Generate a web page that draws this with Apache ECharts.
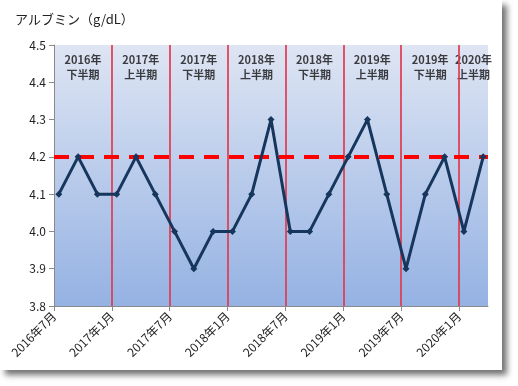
<!DOCTYPE html>
<html>
<head>
<meta charset="utf-8">
<script src="https://cdn.jsdelivr.net/npm/echarts@6/dist/echarts.min.js"></script>
<style>
  html, body { margin: 0; padding: 0; background: #ffffff; }
  #chart { width: 518px; height: 386px; }
</style>
</head>
<body>
<div id="chart"></div>
<script>
// ---- data ----
const months = ['2016-07','2016-09','2016-11','2017-01','2017-03','2017-05','2017-07','2017-09','2017-11',
                '2018-01','2018-03','2018-05','2018-07','2018-09','2018-11','2019-01','2019-03','2019-05',
                '2019-07','2019-09','2019-11','2020-01','2020-03'];
const albumin = [4.1, 4.2, 4.1, 4.1, 4.2, 4.1, 4.0, 3.9, 4.0, 4.0, 4.1, 4.3,
                 4.0, 4.0, 4.1, 4.2, 4.3, 4.1, 3.9, 4.1, 4.2, 4.0, 4.2];
const tickLabels = ['2016年7月','2017年1月','2017年7月','2018年1月','2018年7月','2019年1月','2019年7月','2020年1月'];
const periodLabels = ['2016年\n下半期','2017年\n上半期','2017年\n下半期','2018年\n上半期',
                      '2018年\n下半期','2019年\n上半期','2019年\n下半期','2020年\n上半期'];
const targetValue = 4.2;
const yTicks = [3.8, 3.9, 4.0, 4.1, 4.2, 4.3, 4.4, 4.5];

// ---- helpers ----
const startYear = 2016, startMonth = 7;
function monthIndex(s) {
  const [y, m] = s.split('-').map(Number);
  return (y - startYear) * 12 + (m - startMonth);
}
const xMax = monthIndex('2020-03') + 1;     // 45 monthly slots
const lineData = months.map((m, i) => [monthIndex(m) + 0.5, albumin[i]]);
const boundaries = tickLabels.slice(1).map((_, i) => (i + 1) * 6);
const periodData = periodLabels.map((t, i) => {
  const s = i * 6, e = Math.min(s + 6, xMax);
  return { value: [(s + e) / 2, yTicks[yTicks.length - 1]], name: t };
});

const chart = echarts.init(document.getElementById('chart'), null, { renderer: 'canvas' });
const font = '"Noto Sans CJK JP", "Noto Sans", sans-serif';
const redLine = { color: '#e03a50', width: 1.7, type: 'solid', opacity: 1 };

chart.setOption({
  animation: false,
  textStyle: { fontFamily: font },
  graphic: [{
    type: 'rect', z: -10, silent: true,
    shape: { x: 0, y: 0, width: 502, height: 370 },
    style: { fill: '#ffffff', shadowBlur: 6, shadowOffsetX: 5, shadowOffsetY: 5, shadowColor: 'rgba(0,0,0,0.55)' }
  }],
  title: {
    text: 'アルブミン（g/dL）',
    left: 10, top: 8,
    textStyle: { fontSize: 13, fontWeight: 'normal', color: '#222', fontFamily: font }
  },
  grid: {
    left: 54, top: 45, right: 30, bottom: 80,
    show: true, borderWidth: 0,
    backgroundColor: new echarts.graphic.LinearGradient(0, 0, 0, 1, [
      { offset: 0, color: '#dee5f3' },
      { offset: 1, color: '#95b2e3' }
    ])
  },
  xAxis: {
    type: 'value', min: 0, max: xMax, interval: 6,
    axisLine: { show: true, lineStyle: { color: '#8a8a8a', width: 1 } },
    axisTick: { show: true, length: 5, lineStyle: { color: '#8a8a8a' } },
    splitLine: { show: false },
    axisLabel: {
      rotate: 45, fontSize: 12, color: '#222', margin: 8, showMaxLabel: false,
      formatter: v => (v % 6 === 0 && v / 6 < tickLabels.length) ? tickLabels[v / 6] : ''
    }
  },
  yAxis: {
    type: 'value', min: 3.8, max: 4.5, interval: 0.1,
    axisLine: { show: true, lineStyle: { color: '#8a8a8a', width: 1 } },
    axisTick: { show: true, length: 5, lineStyle: { color: '#8a8a8a' } },
    splitLine: { show: false },
    axisLabel: { fontSize: 12, color: '#222', margin: 8, formatter: v => v.toFixed(1) }
  },
  series: [
    {
      type: 'line', data: [], silent: true, color: '#e03a50',
      markLine: {
        silent: true, symbol: 'none', label: { show: false },
        lineStyle: redLine,
        emphasis: { disabled: true },
        data: boundaries.map(b => ({ xAxis: b }))
      }
    },
    {
      type: 'line', data: [], silent: true, color: '#ff0000',
      markLine: {
        silent: true, symbol: 'none', label: { show: false }, z: 5,
        lineStyle: { color: '#ff0000', width: 4, type: [15, 10] },
        data: [{ yAxis: targetValue }]
      }
    },
    {
      type: 'line', data: lineData, z: 10,
      symbol: 'diamond', symbolSize: 7,
      lineStyle: { color: '#17365d', width: 3 },
      itemStyle: { color: '#17365d' }
    },
    {
      type: 'scatter', data: periodData, symbolSize: 0, silent: true,
      label: {
        show: true, position: 'inside', offset: [0, 22],
        formatter: p => p.name,
        fontSize: 11, fontWeight: 'bold', color: '#111', lineHeight: 15, fontFamily: font
      }
    }
  ]
});
</script>
</body>
</html>
